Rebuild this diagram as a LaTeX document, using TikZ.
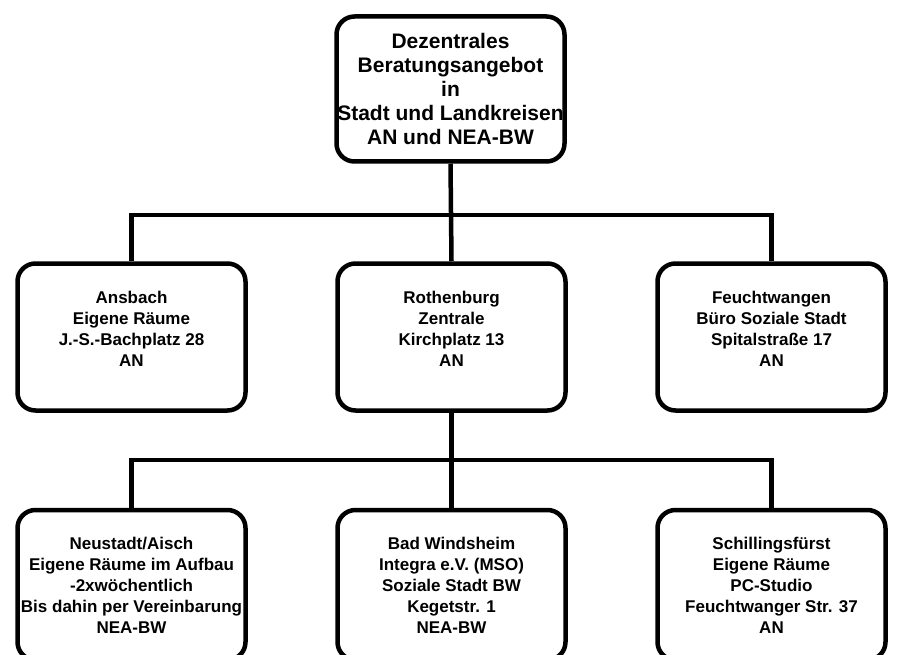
\documentclass[tikz,border=0pt]{standalone}
\usepackage{fontspec}
\setmainfont{Liberation Sans}
\usetikzlibrary{positioning,calc}

\begin{document}
\begin{tikzpicture}[x=1pt,y=-1pt,
	box/.style={draw,line width=4.5pt,rounded corners=18pt,minimum width=228pt,minimum height=147pt,inner sep=0pt},
	boxtext/.style={align=center,inner sep=0pt,font=\fontsize{17}{21}\selectfont\bfseries},
	conn/.style={line width=4.5pt}]
				\clip (0,0) rectangle (897,655);
				% Kopf
				\node[box,minimum height=145pt,align=center,font=\fontsize{21}{24}\selectfont\bfseries] (zentral) at (450.5,89)
					{Dezentrales\\Beratungsangebot\\in\\Stadt und Landkreisen\\AN und NEA-BW};
				% zweite Reihe
				\node[box] (ansbach) at (131.5,337) {};
				\node[box] (rothenburg) at (451.5,337) {};
				\node[box] (feuchtwangen) at (771.5,337) {};
				\node[boxtext,yshift=8pt] (ansbachtext) at (ansbach) {Ansbach\\Eigene Räume\\J.-S.-Bachplatz 28\\AN};
				\node[boxtext,yshift=8pt] (rothenburgtext) at (rothenburg) {Rothenburg\\Zentrale\\Kirchplatz 13\\AN};
				\node[boxtext,yshift=8pt] (feuchtwangentext) at (feuchtwangen) {Feuchtwangen\\Büro Soziale Stadt\\Spitalstraße 17\\AN};
				% dritte Reihe
				\node[box,minimum height=150pt,align=center,font=\fontsize{17}{21}\selectfont\bfseries] (neustadt) at (131.5,585)
					{Neustadt/Aisch\\Eigene Räume im Aufbau\\-2xwöchentlich\\Bis dahin per Vereinbarung\\NEA-BW};
				\node[box,minimum height=150pt,align=center,font=\fontsize{17}{21}\selectfont\bfseries] (windsheim) at (451.5,585)
					{Bad Windsheim\\Integra e.V. (MSO)\\Soziale Stadt BW\\Kegetstr. 1\\NEA-BW};
				\node[box,minimum height=150pt,align=center,font=\fontsize{17}{21}\selectfont\bfseries] (schillingsfuerst) at (771.5,585)
					{Schillingsfürst\\Eigene Räume\\PC-Studio\\Feuchtwanger Str. 37\\AN};
				% Verbindungen
				\draw[conn] (zentral.south) -- (rothenburg.north);
				\draw[conn] (ansbach.north) -- ++(0,-46) -| (feuchtwangen.north);
				\draw[conn] (rothenburg.south) -- (windsheim.north);
				\draw[conn] (neustadt.north) -- ++(0,-48) -| (schillingsfuerst.north);
			\end{tikzpicture}
\end{document}
